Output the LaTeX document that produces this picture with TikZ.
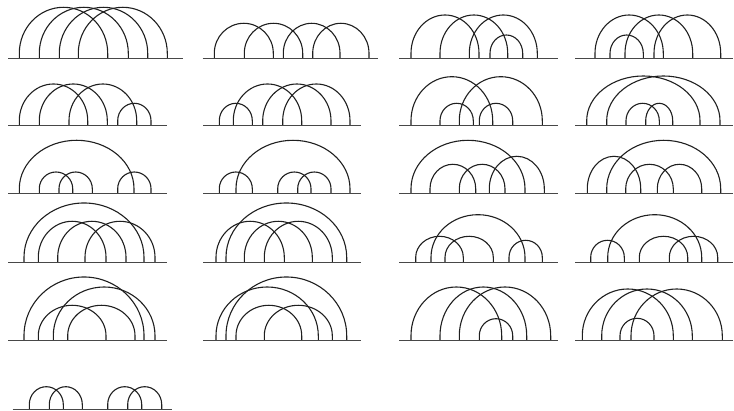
\documentclass[tikz,border=0pt]{standalone}
\usepackage{tikz}
\tikzset{
  chordline/.style={line width=1.1pt, draw=black!88},
  axisline/.style={line width=1.5pt, draw=black!72}
}
\newcommand\archord[3]{%
  \draw[chordline] (#1,{411-\rowbase}) -- ++(0,5)
    arc[start angle=180,end angle=0,x radius={(#2-#1)/2},y radius={\rowbase-#3-5}]
    -- (#2,{411-\rowbase});}
\newcommand\axisln[2]{\draw[axisline] (#1,{411-\rowbase}) -- (#2,{411-\rowbase});}
\begin{document}
\begin{tikzpicture}[x=1pt,y=1pt]
\useasboundingbox (0,0) rectangle (734,411);
% Row 1
\def\rowbase{58.3}
\archord{19.3}{107.7}{7.3}\archord{39.3}{128.3}{7.3}\archord{59.3}{147.7}{7.3}\archord{78.3}{167.3}{7.3}
\axisln{8.3}{182.7}
\archord{214.3}{273.3}{23.3}\archord{244.3}{302.7}{23.3}\archord{283.3}{340}{23.3}\archord{312.7}{369}{23.3}
\axisln{202.7}{378}
\archord{411}{479}{15}\archord{440}{507.7}{15}\archord{469.3}{537.3}{15}\archord{490}{522.7}{35}
\axisln{399}{557.7}
\archord{595}{663.3}{15}\archord{610}{643.3}{35}\archord{625}{692.7}{15}\archord{654}{720.7}{15}
\axisln{575}{733}
% Row 2
\def\rowbase{125.7}
\archord{19.3}{87.7}{84}\archord{39.3}{107.3}{84}\archord{69}{136.7}{84}\archord{117.7}{151}{103.3}
\axisln{8.3}{166.7}
\archord{219.3}{252.3}{103.3}\archord{233.3}{301.7}{84}\archord{262.7}{331}{84}\archord{282.7}{350}{84}
\axisln{203.3}{361}
\archord{411}{492.7}{76.7}\archord{440}{473.3}{103.3}\archord{459.3}{542.3}{76.7}\archord{479.3}{512.7}{103.3}
\axisln{399}{557.7}
\archord{586.7}{700}{76}\archord{606.7}{720}{76}\archord{626}{659.3}{103.3}\archord{645.7}{672.7}{103.3}
\axisln{575}{733}
% Row 3
\def\rowbase{193.7}
\archord{19.3}{134}{140.3}\archord{39.3}{72.7}{172}\archord{59}{92.3}{172}\archord{117.7}{151}{172}
\axisln{8.3}{166.7}
\archord{219.3}{252.3}{172}\archord{236}{350}{140.3}\archord{277.7}{311}{172}\archord{297.7}{331}{172}
\axisln{203.3}{361}
\archord{411}{525}{140.3}\archord{430}{475.7}{164.3}\archord{459.3}{505}{164.3}\archord{489.3}{544.3}{156.3}
\axisln{399}{557.7}
\archord{587.3}{640.7}{156.3}\archord{606.7}{720.7}{140.3}\archord{625.7}{673.3}{164.3}\archord{657.3}{701.7}{164.3}
\axisln{575}{733}
% Row 4
\def\rowbase{262.3}
\archord{24}{144}{203}\archord{38.3}{106}{221.3}\archord{57.7}{126}{221.3}\archord{85}{155}{221.3}
\axisln{8.3}{166.7}
\archord{216}{284.3}{221.3}\archord{226}{346.7}{203}\archord{244.3}{312.3}{221.3}\archord{264.3}{332.3}{221.3}
\axisln{203.3}{361}
\archord{415.7}{463.3}{236.3}\archord{431}{525}{214.7}\archord{445}{493.3}{236.3}\archord{509}{542.3}{240.3}
\axisln{399}{557.7}
\archord{590.7}{624.3}{240.3}\archord{607.7}{701.7}{214.7}\archord{639.3}{687.7}{236.3}\archord{669.3}{717.7}{236.3}
\axisln{575}{733}
% Row 5
\def\rowbase{340.7}
\archord{24}{144}{277}\archord{38.3}{106}{305.3}\archord{53.3}{155}{287}\archord{67.7}{135}{305.3}
\axisln{8.3}{166.7}
\archord{216}{318.3}{287}\archord{226}{346.7}{277}\archord{236}{301.7}{305.3}\archord{264.3}{332.3}{305.3}
\axisln{203.3}{361}
\archord{411}{501.7}{287}\archord{440}{526.7}{287}\archord{459.3}{550.7}{287}\archord{479.3}{512.7}{318.7}
\axisln{399}{557.7}
\archord{582.3}{673.3}{289}\archord{601.7}{692.3}{289}\archord{620}{654}{318.3}\archord{631}{722.3}{289}
\axisln{575}{733}
% Row 6
\def\rowbase{409.5}
\archord{29.3}{63.3}{386.7}\archord{49.3}{82.3}{386.7}\archord{107.7}{141.7}{386.7}\archord{127.7}{161.7}{386.7}
\axisln{12.7}{171.7}
\end{tikzpicture}
\end{document}
